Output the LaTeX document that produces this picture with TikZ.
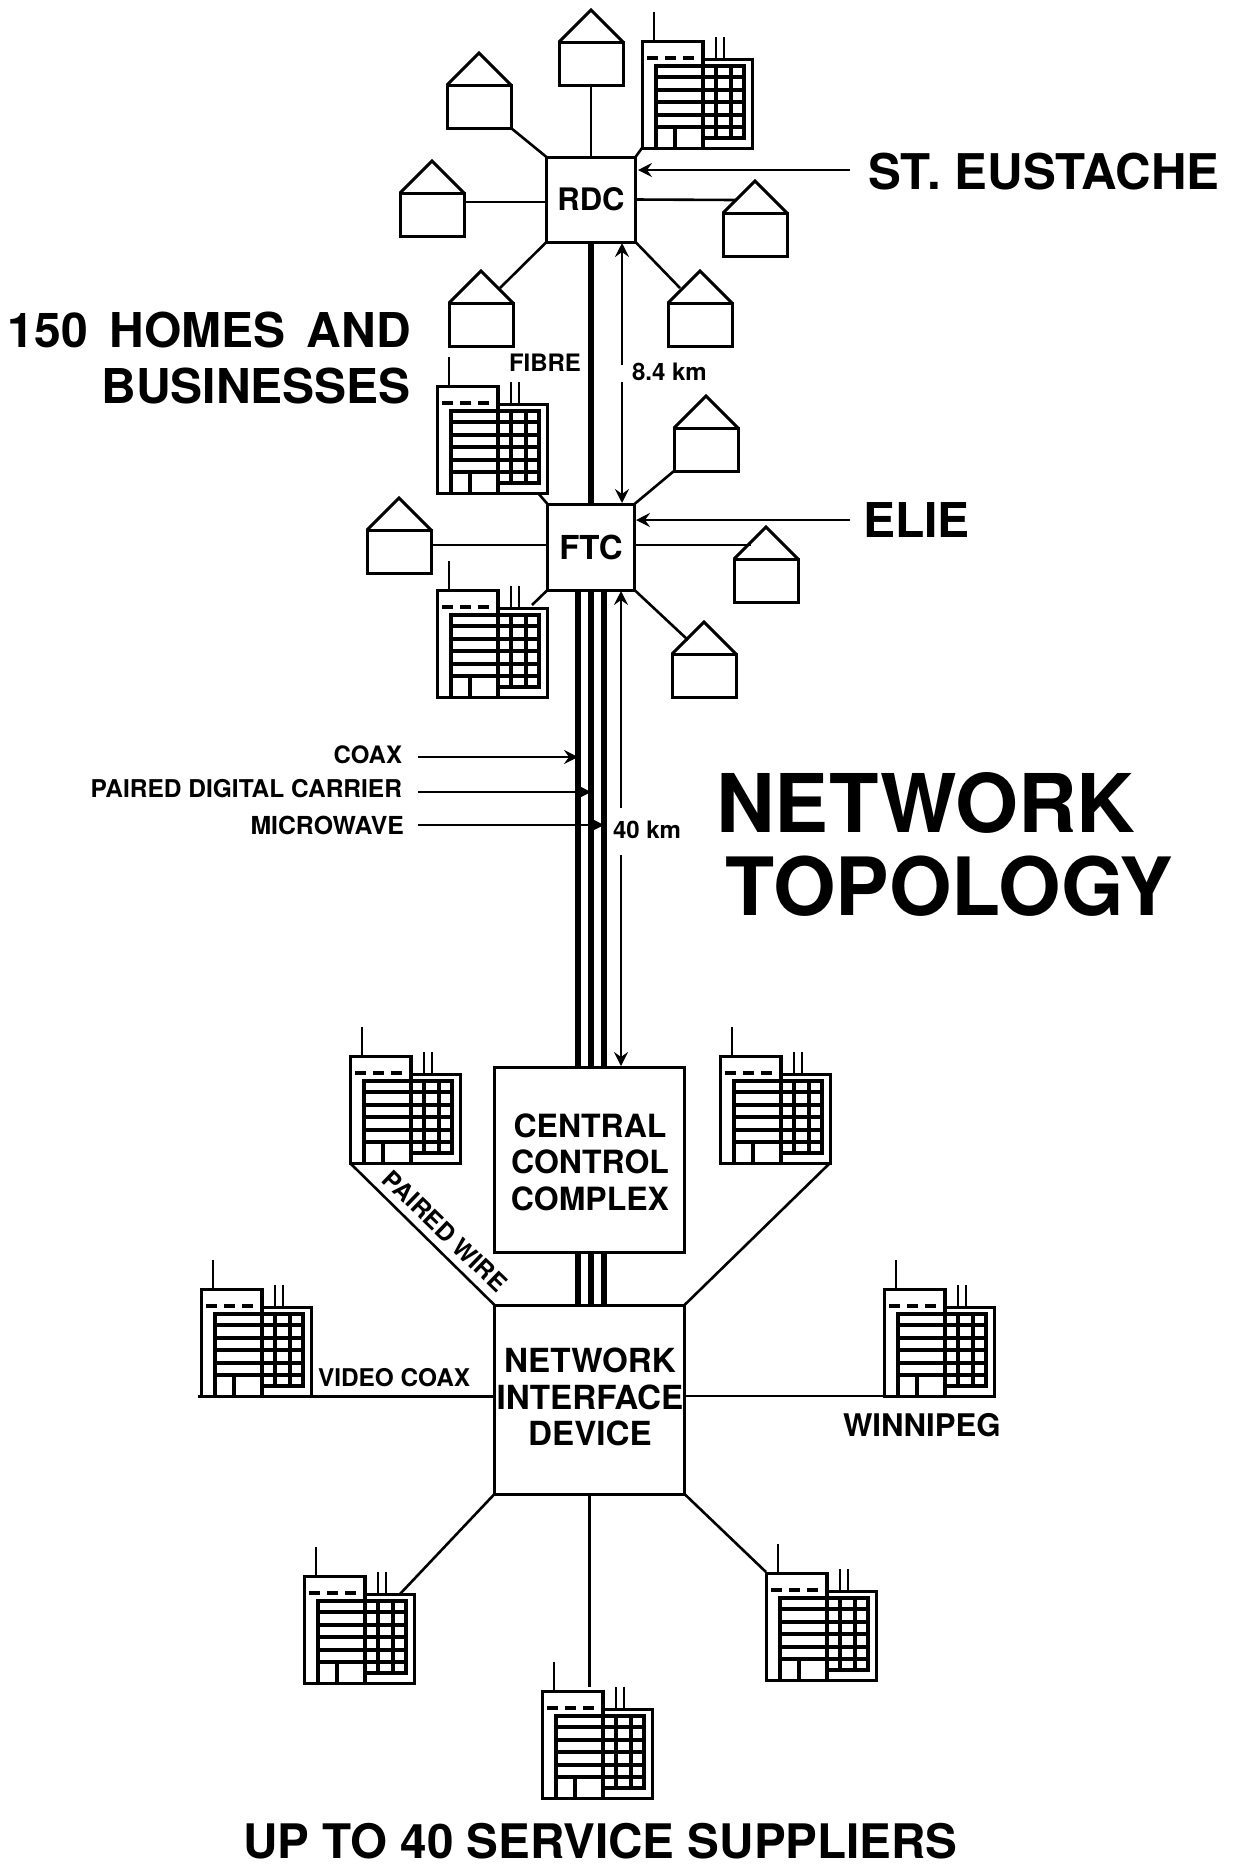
\documentclass[tikz,border=0pt]{standalone}
\usepackage{fontspec}
\setmainfont{TeX Gyre Heros}
\usetikzlibrary{arrows.meta,calc}
\tikzset{
  lw/.style={line width=1.3pt},
  thickline/.style={line width=2.8pt},
  arr/.style={line width=1.25pt,-{Stealth[length=7pt,width=7pt,inset=2.5pt]}},
  boxnode/.style={draw,line width=1.5pt,fill=white,rectangle,inner sep=0pt,outer sep=0pt,align=center,font=\bfseries},
  housenode/.style={draw,line width=1.5pt,rectangle,inner sep=0pt,outer sep=0pt,minimum width=32pt,minimum height=21.5pt,anchor=north west},
  bldgnode/.style={rectangle,inner sep=0pt,outer sep=0pt,minimum width=55pt,minimum height=54pt,anchor=south west},
  lbl/.style={inner sep=0pt,outer sep=0pt,font=\bfseries},
}
\newcommand{\house}[3]{%
  \node[housenode] (#1) at (#2,#3) {};
  \draw[line width=1.5pt,line join=miter] (#1.north west) -- ($(#1.north)+(0,-32)$) -- (#1.north east);
}
\newcommand{\bldg}[3]{%
  \node[bldgnode] (#1) at (#2,#3) {};
  \begin{scope}[shift={(#2,#3)}]
    \draw[line width=1.5pt] (0,0) -- (0,-107) -- (61,-107) -- (61,-89) -- (110,-89) -- (110,0) -- cycle;
    \draw[line width=1.4pt] (12,-107) -- (12,-136) (74,-89) -- (74,-111) (82,-89) -- (82,-111);
    \draw[line width=1.7pt,dash pattern=on 5.5pt off 3.5pt] (5,-90) -- (52,-90);
    \draw[line width=1.7pt] (14,0) -- (14,-82) -- (102,-82) -- (102,-10) -- (61,-10);
    \draw[line width=1.7pt] (61,-107) -- (61,0) (33,0) -- (33,-21);
    \draw[line width=1.7pt] (14,-71) -- (102,-71) (14,-58) -- (102,-58) (14,-46) -- (102,-46) (14,-33) -- (102,-33) (14,-21) -- (102,-21);
    \draw[line width=1.7pt] (74,-82) -- (74,-10) (89,-82) -- (89,-10);
  \end{scope}
}
\begin{document}
\begin{tikzpicture}[x=0.5pt,y=-0.5pt]
\useasboundingbox (0,0) rectangle (1241,1865);

% main boxes
\node[boxnode,minimum width=44.5pt,minimum height=42.5pt,font=\bfseries\fontsize{15.5}{18}\selectfont] (rdc) at (591,199.5) {RDC};
\node[boxnode,minimum width=43.5pt,minimum height=43pt,font=\bfseries\fontsize{16.5}{18}\selectfont] (ftc) at (591,547) {FTC};
\node[boxnode,minimum width=95pt,minimum height=92.5pt] (ccc) at (589.5,1159.5) {};
\node[boxnode,minimum width=95pt,minimum height=94.5pt] (nid) at (589.5,1399.5) {};
\node[lbl,align=center,font=\bfseries\fontsize{16}{18.3}\selectfont] (tccc) at (590,1162) {CENTRAL\\CONTROL\\COMPLEX};
\node[lbl,align=center,font=\bfseries\fontsize{16.6}{18.4}\selectfont] (tnid) at (590,1397) {NETWORK\\INTERFACE\\DEVICE};

% houses
\house{ha}{559}{42}
\house{hb}{447}{85}
\house{hc}{400}{193}
\house{hd}{723}{213}
\house{he}{449}{303}
\house{hf}{668}{303}
\house{hg}{674}{428}
\house{hh}{367}{530}
\house{hi}{734}{559}
\house{hj}{672}{654}

% buildings
\bldg{ba}{642}{148}
\bldg{bb}{437}{493}
\bldg{bc}{437}{697}
\bldg{bd}{350}{1163}
\bldg{be}{720}{1163}
\bldg{bf}{201}{1396}
\bldg{bg}{884}{1396}
\bldg{bh}{304}{1683}
\bldg{bi}{766}{1680}
\bldg{bj}{542}{1798}

% free connector ends
\coordinate (eHc) at (463,202);
\coordinate (eHd) at (736,200);
\coordinate (eHe) at (500,288);
\coordinate (eHf) at (680,288);
\coordinate (eHg) at (674,471);
\coordinate (eHh) at (431,545);
\coordinate (eHi) at (751,545);
\coordinate (eHj) at (688,640);
\coordinate (eBb) at (538,493);
\coordinate (eBc) at (532,605);
\coordinate (eBf) at (198,1396);
\coordinate (eBh) at (400,1594);
\coordinate (eBg) at (884,1396);
\coordinate (sE) at (850,170);
\coordinate (eE) at (638,170);
\coordinate (sL) at (850,520);
\coordinate (eL) at (636,520);
\coordinate (aA) at (622,243);
\coordinate (aB) at (622,365);
\coordinate (aC) at (622,382);
\coordinate (aD) at (622,503);
\coordinate (aE) at (621,591);
\coordinate (aF) at (621,808);
\coordinate (aG) at (621,855);
\coordinate (aH) at (621,1066);
\coordinate (cS) at (418,757);
\coordinate (cE) at (578,757);
\coordinate (pS) at (418,792);
\coordinate (pE) at (591,792);
\coordinate (mS) at (418,825);
\coordinate (mE) at (604,825);

% RDC connectors
\draw[lw] (ha.south -| rdc.north) -- (rdc.north);
\draw[lw] (hb.south east) -- (rdc.north west);
\draw[lw] (eHc) -- (rdc.west |- eHc);
\draw[lw] (rdc.east) -- (eHd);
\draw[lw] (rdc.south west) -- (eHe);
\draw[lw] (rdc.south east) -- (eHf);
\draw[lw] (rdc.north east) -- (ba.south west);
\draw[arr] (sE) -- (eE);
\draw[thickline] (rdc.south) -- (ftc.north);
\draw[arr] (aB) -- (aA);
\draw[arr] (aC) -- (aD);

% FTC connectors
\draw[lw] (ftc.north east) -- (eHg);
\draw[lw] (ftc.north west) -- (eBb);
\draw[lw] (ftc.south west) -- (eBc);
\draw[lw] (eHh) -- (ftc.west |- eHh);
\draw[lw] (ftc.east |- eHi) -- (eHi);
\draw[lw] (ftc.south east) -- (eHj);
\draw[arr] (sL) -- (eL);
\foreach \dx in {-13,0,13} {
  \draw[thickline] ($(ftc.south)+(\dx,0)$) -- ($(ftc.south |- ccc.north)+(\dx,0)$);
  \draw[thickline] ($(ftc.south |- ccc.south)+(\dx,0)$) -- ($(ftc.south |- nid.north)+(\dx,0)$);
}
\draw[arr] (aF) -- (aE);
\draw[arr] (aG) -- (aH);
\draw[arr] (cS) -- (cE);
\draw[arr] (pS) -- (pE);
\draw[arr] (mS) -- (mE);

% NID connectors
\draw[lw] (bd.south west) -- (nid.north west);
\draw[lw] (be.south east) -- (nid.north east);
\draw[line width=1.5pt] (eBf) -- (nid.west |- eBf);
\draw[lw] (nid.east |- eBg) -- (eBg);
\draw[lw] (nid.south west) -- (eBh);
\draw[lw] (nid.south east) -- (bi.north west);
\draw[lw] (nid.south) -- (nid.south |- 0,1687);

% labels
\node[lbl,font=\bfseries\fontsize{24.6}{28}\selectfont,anchor=west] (tS) at (868,172) {ST. EUSTACHE};
\node[lbl,font=\bfseries\fontsize{24}{28}\selectfont,anchor=west] (tE) at (863,520) {ELIE};
\node[lbl,font=\bfseries\fontsize{24}{28}\selectfont,anchor=east,align=right] (tH) at (411,358) {150\hspace{0.17em} HOMES\hspace{0.17em} AND\\BUSINESSES};
\node[lbl,font=\bfseries\fontsize{12}{14}\selectfont,anchor=west] (tF) at (509,363) {FIBRE};
\node[lbl,font=\bfseries\fontsize{12}{14}\selectfont,anchor=west] (tK) at (632,372) {8.4 km};
\node[lbl,font=\bfseries\fontsize{12}{14}\selectfont,anchor=west] (tM) at (613,830) {40 km};
\node[lbl,font=\bfseries\fontsize{12}{14}\selectfont,anchor=east] (tC) at (402,755) {COAX};
\node[lbl,font=\bfseries\fontsize{12.25}{14}\selectfont,anchor=east] (tP) at (402,789) {PAIRED DIGITAL CARRIER};
\node[lbl,font=\bfseries\fontsize{12.4}{14}\selectfont,anchor=east] (tW) at (404,825) {MICROWAVE};
\node[lbl,font=\bfseries\fontsize{40.5}{46}\selectfont,anchor=west] (tN) at (716.5,803) {NETWORK};
\node[lbl,font=\bfseries\fontsize{40.2}{46}\selectfont,anchor=west] (tT) at (725.5,886) {TOPOLOGY};
\node[lbl,font=\bfseries\fontsize{12.2}{15}\selectfont,rotate=-44] (tPW) at (445,1231) {PAIRED WIRE};
\node[lbl,font=\bfseries\fontsize{12.2}{15}\selectfont,anchor=west] (tV) at (318,1378) {VIDEO COAX};
\node[lbl,font=\bfseries\fontsize{15.6}{18}\selectfont,anchor=west] (tW2) at (843,1425) {WINNIPEG};
\node[lbl,font=\bfseries\fontsize{23.8}{28}\selectfont,anchor=west] (tU) at (243,1841) {UP TO 40 SERVICE SUPPLIERS};
\end{tikzpicture}
\end{document}
